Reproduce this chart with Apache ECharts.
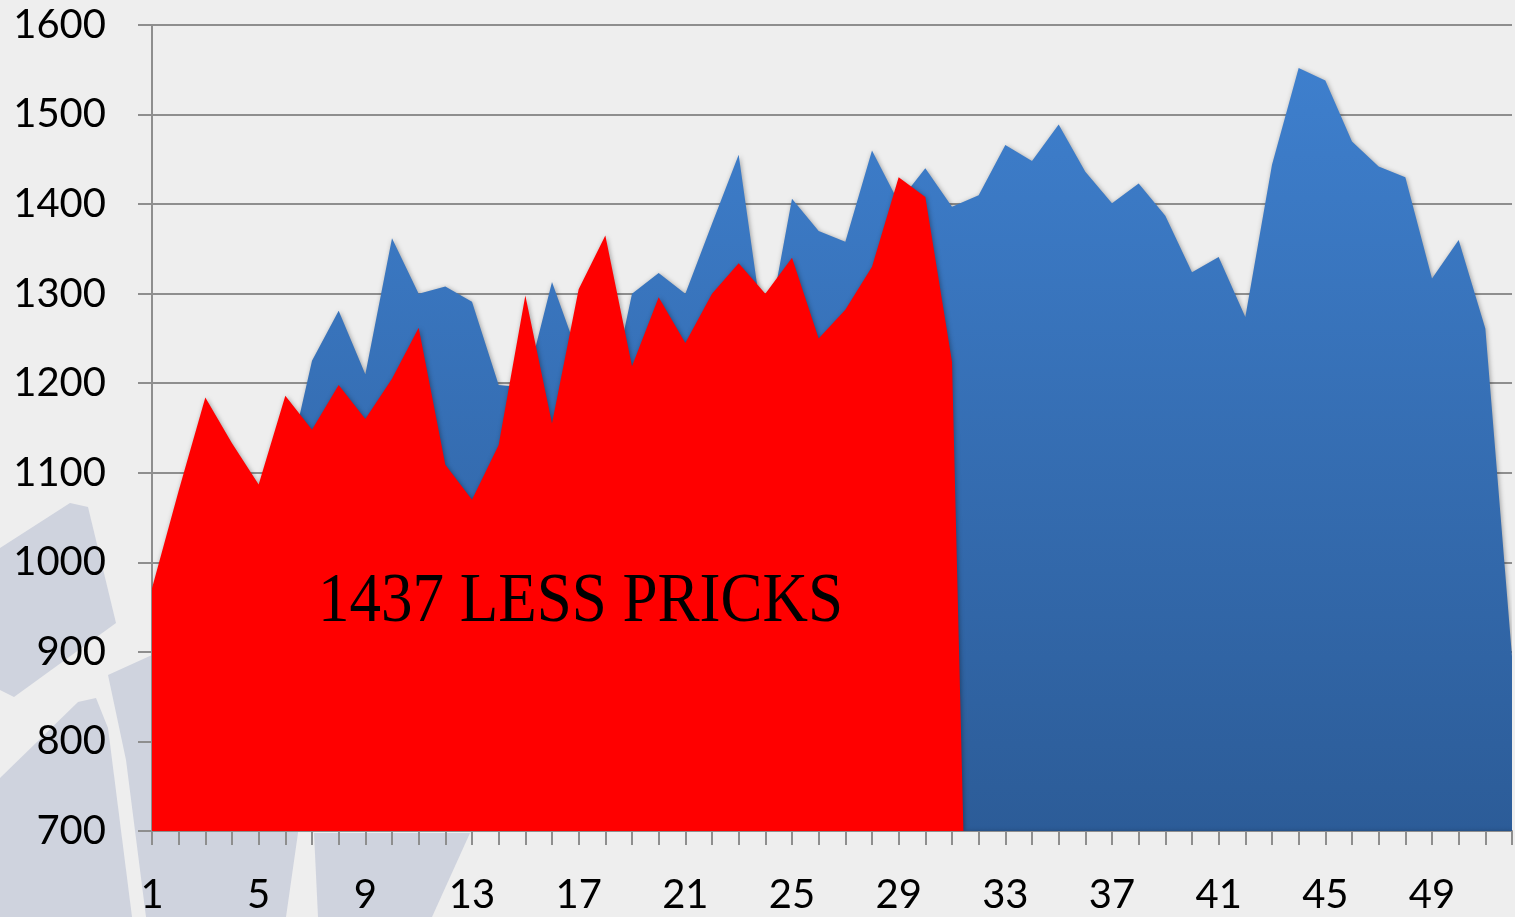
<!DOCTYPE html>
<html>
<head>
<meta charset="utf-8">
<script src="https://cdn.jsdelivr.net/npm/echarts@6/dist/echarts.min.js"></script>
<style>
  html, body { margin: 0; padding: 0; background: #eeeeee; }
  #myChart { width: 1515px; height: 917px; }
</style>
</head>
<body>
<div id="myChart"></div>
<script>
// week numbers along the bottom
const categories = ['1', '2', '3', '4', '5', '6', '7', '8', '9', '10', '11', '12', '13',
  '14', '15', '16', '17', '18', '19', '20', '21', '22', '23', '24', '25', '26',
  '27', '28', '29', '30', '31', '32', '33', '34', '35', '36', '37', '38', '39',
  '40', '41', '42', '43', '44', '45', '46', '47', '48', '49', '50', '51', '52']

// last year (blue)
const lastYear = [950, 1040, 1090, 1060, 1030, 1094, 1225, 1281, 1210, 1362,
  1300, 1308, 1291, 1198, 1195, 1313, 1230, 1160, 1300, 1323,
  1300, 1378, 1455, 1245, 1406, 1370, 1358, 1460, 1402, 1440,
  1397, 1410, 1466, 1448, 1489, 1436, 1401, 1423, 1387, 1324,
  1341, 1274, 1444, 1552, 1538, 1470, 1442, 1430, 1317, 1360,
  1261, 895]

// this year (red), zero after week 31
const thisYear = [971, 1080, 1184, 1133, 1087, 1186, 1148, 1198, 1160, 1205,
  1262, 1109, 1070, 1131, 1298, 1155, 1305, 1365, 1219, 1296,
  1245, 1300, 1334, 1300, 1340, 1250, 1282, 1330, 1430, 1408,
  1224, 0, 0, 0, 0, 0, 0, 0, 0, 0, 0, 0, 0, 0, 0, 0, 0, 0, 0, 0, 0, 0]

const yTicks = [700, 800, 900, 1000, 1100, 1200, 1300, 1400, 1500, 1600]

const noteText = '1437 LESS PRICKS'

let myChart = echarts.init(document.getElementById('myChart'))

const wm = '#cfd3de'
const axisGray = '#8e8e8e'

myChart.setOption({
  animation: false,
  backgroundColor: '#eeeeee',
  grid: {
    left: 152,
    right: 3,
    top: 25,
    bottom: 86,
    containLabel: false,
    outerBoundsMode: 'none'
  },
  // faint logo watermark behind the chart
  graphic: [
    { type: 'polygon', z: -10, shape: { points: [[0, 548], [70, 503], [88, 507], [116, 623], [14, 697], [0, 690]] }, style: { fill: wm } },
    { type: 'polygon', z: -10, shape: { points: [[0, 778], [78, 702], [96, 698], [108, 728], [132, 917], [0, 917]] }, style: { fill: wm } },
    { type: 'polygon', z: -10, shape: { points: [[108, 675], [152, 655], [300, 700], [298, 833], [286, 917], [146, 917], [126, 760]] }, style: { fill: wm } },
    { type: 'polygon', z: -10, shape: { points: [[314, 833], [470, 833], [432, 917], [318, 917]] }, style: { fill: wm } },
    {
      type: 'text',
      z: 100,
      x: 318,
      y: 603,
      scaleX: 0.9,
      style: {
        text: noteText,
        font: '70px "Liberation Serif", "Times New Roman", serif',
        fill: '#000',
        verticalAlign: 'middle'
      }
    }
  ],
  xAxis: {
    type: 'category',
    data: categories,
    boundaryGap: false,
    axisLine: { show: true, lineStyle: { color: axisGray, width: 2 } },
    axisTick: { show: true, interval: 0, length: 14, lineStyle: { color: axisGray, width: 2 } },
    axisLabel: {
      interval: 3,
      margin: 44,
      color: '#000',
      fontFamily: 'Lato',
      fontSize: 40
    },
    splitLine: { show: false }
  },
  yAxis: {
    type: 'value',
    min: yTicks[0],
    max: yTicks[yTicks.length - 1],
    interval: 100,
    axisLine: { show: true, lineStyle: { color: axisGray, width: 2 } },
    axisTick: { show: true, length: 14, lineStyle: { color: axisGray, width: 2 } },
    axisLabel: {
      margin: 46,
      color: '#000',
      fontFamily: 'Lato',
      fontSize: 40,
      formatter: function (v) { return String(v) }
    },
    splitLine: { show: true, lineStyle: { color: axisGray, width: 2 } }
  },
  series: [
    {
      name: 'last year',
      type: 'line',
      data: lastYear,
      symbol: 'none',
      lineStyle: { width: 0 },
      areaStyle: {
        opacity: 1,
        color: new echarts.graphic.LinearGradient(0, 0, 0, 1, [
          { offset: 0, color: '#3e7fcd' },
          { offset: 1, color: '#2c5c98' }
        ]),
        shadowBlur: 5,
        shadowColor: 'rgba(0,0,0,0.35)',
        shadowOffsetX: 1,
        shadowOffsetY: 1
      },
      z: 2
    },
    {
      name: 'this year',
      type: 'line',
      data: thisYear,
      symbol: 'none',
      lineStyle: { width: 0 },
      areaStyle: {
        opacity: 1,
        color: '#ff0000',
        shadowBlur: 5,
        shadowColor: 'rgba(0,0,0,0.35)',
        shadowOffsetX: 1,
        shadowOffsetY: 1
      },
      z: 3
    }
  ]
})
</script>
</body>
</html>
